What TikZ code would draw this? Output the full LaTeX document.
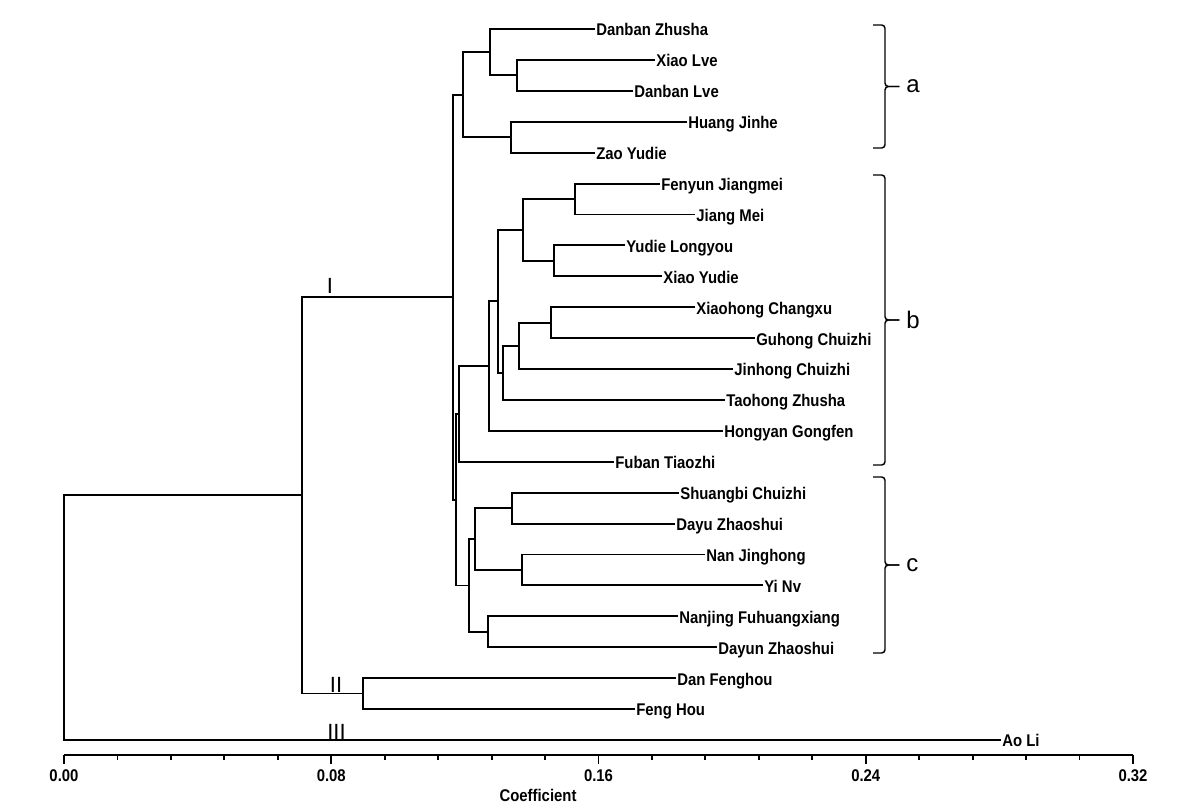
\documentclass[tikz,border=0pt]{standalone}
\usepackage{fontspec}
\setmainfont{Liberation Sans}
\newfontfamily\narrowfont[FakeStretch=0.88]{Liberation Sans}
\usetikzlibrary{calc}

% join two children #3, #4 at branch height #2, name the join #1
\newcommand\clade[4]{%
  \coordinate (#1m) at ($(#3)!.5!(#4)$);
  \coordinate (#1) at (#2,0 |- #1m);
  \draw[branch] (#3) -| (#1) |- (#4);}

% group bracket: name, top, bottom, letter
\newcommand\grpbrace[4]{%
  \node[grp] (#1) at (906,{(#2+#3)/2}) {#4};
  \draw[brace] (873,#2) -- (885,#2) -- (885,{(#2+#3)/2}) -- ([xshift=-5pt]#1.west);
  \draw[brace] ([xshift=-5pt]#1.west) -- (885,{(#2+#3)/2}) -- (885,#3) -- (873,#3);}

\begin{document}
\begin{tikzpicture}[
    x=0.75pt, y=-0.75pt,
    branch/.style={line width=1.4pt},
    leaf/.style={anchor=west, inner sep=0.8pt, text height=10.4pt, text depth=0pt,
                 font=\narrowfont\bfseries\fontsize{12.7}{14}\selectfont},
    axis/.style={line width=1.4pt},
    axlbl/.style={inner sep=0pt, font=\narrowfont\bfseries\fontsize{12.7}{14}\selectfont},
    grp/.style={anchor=west, inner sep=0pt, font=\fontsize{18}{20}\selectfont},
    brace/.style={line width=1.1pt, rounded corners=2.5pt},
    rank/.style={anchor=base, inner sep=0pt, font=\fontsize{16.5}{18}\selectfont},
]
\fill[white] (0,0) rectangle (1200,811);
\useasboundingbox (0,0) rectangle (1200,811);

% ============================ cultivars =================================
\node[leaf] (DZhusha)     at (595,29.0)  {Danban Zhusha};
\node[leaf] (XLve)        at (655,59.9)  {Xiao Lve};
\node[leaf] (DLve)        at (633,90.8)  {Danban Lve};
\node[leaf] (HJinhe)      at (687,121.7) {Huang Jinhe};
\node[leaf] (ZYudie)      at (595,152.7) {Zao Yudie};
\node[leaf] (FJiangmei)   at (660,183.6) {Fenyun Jiangmei};
\node[leaf] (JMei)        at (695,214.5) {Jiang Mei};
\node[leaf] (YLongyou)    at (625,245.4) {Yudie Longyou};
\node[leaf] (XYudie)      at (662,276.3) {Xiao Yudie};
\node[leaf] (XChangxu)    at (695,307.2) {Xiaohong Changxu};
\node[leaf] (GChuizhi)    at (755,338.1) {Guhong Chuizhi};
\node[leaf] (JChuizhi)    at (733,369.0) {Jinhong Chuizhi};
\node[leaf] (TZhusha)     at (725,399.9) {Taohong Zhusha};
\node[leaf] (HGongfen)    at (723,430.9) {Hongyan Gongfen};
\node[leaf] (FTiaozhi)    at (614,461.8) {Fuban Tiaozhi};
\node[leaf] (SChuizhi)    at (679,492.7) {Shuangbi Chuizhi};
\node[leaf] (DyZhaoshui)  at (675,523.6) {Dayu Zhaoshui};
\node[leaf] (NJinghong)   at (705,554.5) {Nan Jinghong};
\node[leaf] (YNv)         at (763,585.4) {Yi Nv};
\node[leaf] (NFuhuang)    at (678,616.3) {Nanjing Fuhuangxiang};
\node[leaf] (DunZhaoshui) at (717,647.3) {Dayun Zhaoshui};
\node[leaf] (DFenghou)    at (676,678.1) {Dan Fenghou};
\node[leaf] (FHou)        at (635,709.0) {Feng Hou};
\node[leaf] (ALi)         at (1001,740.0) {Ao Li};

% ============================ group a ===================================
\clade{a1}{517}{XLve.west}{DLve.west}
\clade{a2}{490}{DZhusha.west}{a1}
\clade{a3}{511}{HJinhe.west}{ZYudie.west}
\clade{ga}{463}{a2}{a3}

% ============================ group b ===================================
\clade{b1}{575}{FJiangmei.west}{JMei.west}
\clade{b2}{554}{YLongyou.west}{XYudie.west}
\clade{b3}{523}{b1}{b2}
\clade{b4}{551}{XChangxu.west}{GChuizhi.west}
\clade{b5}{519}{b4}{JChuizhi.west}
\clade{b6}{503}{b5}{TZhusha.west}
\clade{b7}{498}{b3}{b6}
\clade{b8}{489}{b7}{HGongfen.west}
\clade{gb}{459}{b8}{FTiaozhi.west}

% ============================ group c ===================================
\clade{c1}{512}{SChuizhi.west}{DyZhaoshui.west}
\clade{c2}{522}{NJinghong.west}{YNv.west}
\clade{c3}{475}{c1}{c2}
\clade{c4}{488}{NFuhuang.west}{DunZhaoshui.west}
\clade{gc}{469}{c3}{c4}

% ============================ upper joins ===============================
\clade{gbc}{456}{gb}{gc}
\clade{rI}{453}{ga}{gbc}
\clade{rII}{363}{DFenghou.west}{FHou.west}
\clade{rmain}{302}{rI}{rII}
\clade{root}{64}{rmain}{ALi.west}

% ============================ ranks =====================================
\node[rank] (rk1) at (330,293)   {I};
\node[rank] (rk2) at (336,692.5) {II};
\node[rank] (rk3) at (336.5,739) {III};

% ============================ brackets ==================================
\grpbrace{lba}{25}{148}{a}
\grpbrace{lbb}{175}{465}{b}
\grpbrace{lbc}{477}{653}{c}

% ============================ axis ======================================
\draw[axis] (64,755) -- (1133,755);
\foreach \k in {0,...,20} \draw[axis] ({64+53.45*\k},755) -- ++(0,5);
\foreach \k/\v in {0/0.00, 5/0.08, 10/0.16, 15/0.24, 20/0.32} {
  \draw[axis] ({64+53.45*\k},755) -- ++(0,9);
  \node[axlbl, anchor=north] (tk\k) at ({64+53.45*\k},769) {\v};
}
\node[axlbl, anchor=north] (coef) at (538,789) {Coefficient};

\end{tikzpicture}
\end{document}
